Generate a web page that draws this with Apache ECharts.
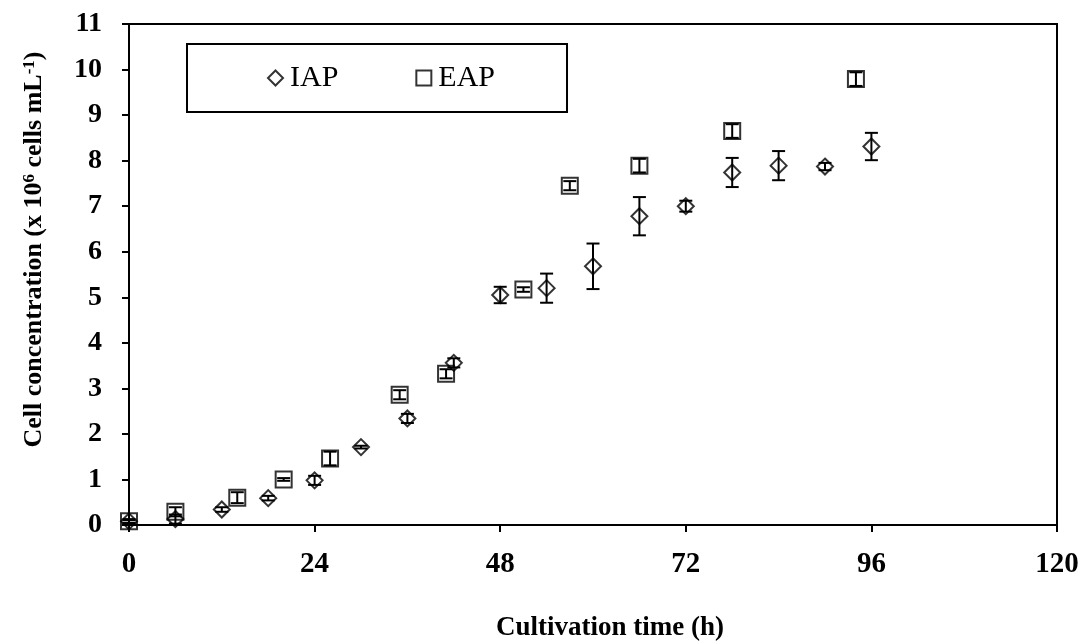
<!DOCTYPE html>
<html>
<head>
<meta charset="utf-8">
<script src="https://cdn.jsdelivr.net/npm/echarts@6/dist/echarts.min.js"></script>
<style>
  html, body { margin: 0; padding: 0; background: #fff; }
  #main { width: 1082px; height: 644px; }
</style>
</head>
<body>
<div id="main"></div>
<script>
// 培养时间 (h) 与细胞浓度 (x 10^6 cells/mL)
var iapTime = [0, 6, 12, 18, 24, 30, 36, 42, 48, 54, 60, 66, 72, 78, 84, 90, 96];
var iapValue = [0.08, 0.13, 0.34, 0.59, 0.98, 1.71, 2.34, 3.56, 5.05, 5.2, 5.68, 6.78, 7.0, 7.74, 7.89, 7.87, 8.31];
var iapError = [0.05, 0.1, 0.05, 0.05, 0.1, 0.03, 0.1, 0.1, 0.18, 0.32, 0.5, 0.42, 0.12, 0.32, 0.32, 0.08, 0.3];

var eapTime = [0, 6, 14, 20, 26, 35, 41, 51, 57, 66, 78, 94];
var eapValue = [0.08, 0.29, 0.6, 1.0, 1.46, 2.86, 3.32, 5.17, 7.45, 7.89, 8.65, 9.79];
var eapError = [0.03, 0.1, 0.12, 0.03, 0.15, 0.1, 0.1, 0.05, 0.1, 0.15, 0.15, 0.15];

var xTicks = [0, 24, 48, 72, 96, 120];

var serif = '"Liberation Serif", "Times New Roman", serif';

var chartDom = document.getElementById('main');
var myChart = echarts.init(chartDom);

function pairs(xs, ys) {
  return xs.map(function (x, i) { return [x, ys[i]]; });
}
function errRows(xs, ys, es) {
  return xs.map(function (x, i) { return [x, ys[i] - es[i], ys[i] + es[i]]; });
}

// 误差线
function renderError(params, api) {
  var x = api.value(0);
  var lo = api.coord([x, api.value(1)]);
  var hi = api.coord([x, api.value(2)]);
  var half = 6.5;
  var style = { stroke: '#000', lineWidth: 2 };
  return {
    type: 'group',
    children: [
      { type: 'line', shape: { x1: lo[0], y1: lo[1], x2: hi[0], y2: hi[1] }, style: style },
      { type: 'line', shape: { x1: lo[0] - half, y1: lo[1], x2: lo[0] + half, y2: lo[1] }, style: style },
      { type: 'line', shape: { x1: hi[0] - half, y1: hi[1], x2: hi[0] + half, y2: hi[1] }, style: style }
    ]
  };
}

var hollow = { color: 'transparent', borderColor: '#000', borderWidth: 2 };

var option = {
  animation: false,
  backgroundColor: '#fff',
  grid: {
    left: 129,
    right: 25,
    top: 24,
    bottom: 119,
    outerBoundsMode: 'none',
    show: true,
    borderColor: '#000',
    borderWidth: 2,
    backgroundColor: 'transparent'
  },
  legend: {
    left: 187,
    top: 44,
    orient: 'horizontal',
    borderColor: '#000',
    borderWidth: 2,
    padding: [19, 72, 19, 80],
    itemGap: 77,
    itemWidth: 15,
    itemHeight: 15,
    textStyle: { fontFamily: serif, fontSize: 30, color: '#000', padding: [0, 0, 0, 2] },
    data: [
      { name: 'IAP', icon: 'diamond', itemStyle: hollow },
      { name: 'EAP', icon: 'rect', itemStyle: hollow }
    ]
  },
  xAxis: {
    type: 'value',
    min: 0,
    max: 120,
    interval: 24,
    name: 'Cultivation time (h)',
    nameLocation: 'middle',
    nameGap: 90,
    nameTextStyle: { fontFamily: serif, fontSize: 27, fontWeight: 'bold', color: '#000', padding: [0, 0, 0, 34] },
    axisLine: { lineStyle: { color: '#000', width: 2 } },
    axisTick: { inside: false, length: 7, lineStyle: { color: '#000', width: 2 } },
    axisLabel: {
      margin: 25,
      fontFamily: serif,
      fontSize: 29,
      fontWeight: 'bold',
      color: '#000',
      formatter: function (v) { return xTicks.indexOf(v) >= 0 ? String(v) : ''; }
    },
    splitLine: { show: false }
  },
  yAxis: {
    type: 'value',
    min: 0,
    max: 11,
    interval: 1,
    name: '{a|Cell concentration (x 10}{s|6}{a| cells mL}{s|-1}{a|)}',
    nameLocation: 'middle',
    nameGap: 82,
    nameTextStyle: {
      color: '#000',
      padding: [0, 0, 0, 50],
      rich: {
        a: { fontFamily: serif, fontSize: 26, fontWeight: 'bold', color: '#000' },
        s: { fontFamily: serif, fontSize: 17, fontWeight: 'bold', color: '#000', verticalAlign: 'top', padding: [0, 0, 8, 0] }
      }
    },
    axisLine: { lineStyle: { color: '#000', width: 2 } },
    axisTick: { inside: false, length: 7, lineStyle: { color: '#000', width: 2 } },
    axisLabel: { margin: 27, fontFamily: serif, fontSize: 28, fontWeight: 'bold', color: '#000' },
    splitLine: { show: false }
  },
  series: [
    {
      name: 'IAP',
      type: 'scatter',
      symbol: 'diamond',
      symbolSize: 16,
      itemStyle: hollow,
      z: 3,
      data: pairs(iapTime, iapValue)
    },
    {
      name: 'EAP',
      type: 'scatter',
      symbol: 'rect',
      symbolSize: 16,
      itemStyle: hollow,
      z: 3,
      data: pairs(eapTime, eapValue)
    },
    {
      name: 'IAP error',
      type: 'custom',
      renderItem: renderError,
      z: 4,
      encode: { x: 0, y: [1, 2] },
      data: errRows(iapTime, iapValue, iapError)
    },
    {
      name: 'EAP error',
      type: 'custom',
      renderItem: renderError,
      z: 4,
      encode: { x: 0, y: [1, 2] },
      data: errRows(eapTime, eapValue, eapError)
    }
  ]
};

option && myChart.setOption(option);
</script>
</body>
</html>
